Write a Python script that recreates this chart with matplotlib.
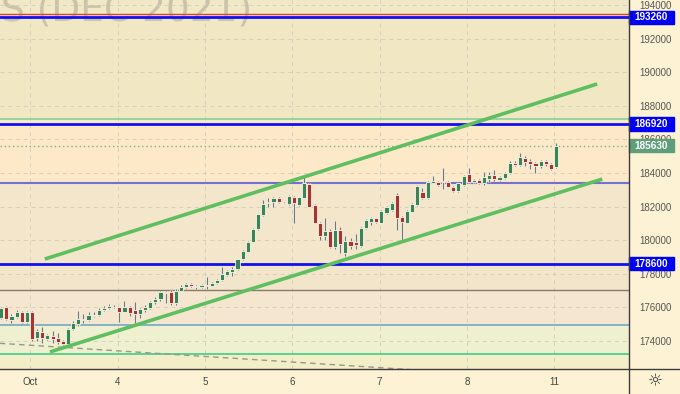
import matplotlib
matplotlib.use('Agg')
import matplotlib.pyplot as plt
import numpy as np
from matplotlib.patches import Rectangle
from matplotlib.lines import Line2D
from matplotlib.transforms import blended_transform_factory

plt.rcParams['font.family'] = ['Liberation Sans', 'DejaVu Sans']

# hourly candles, index 0 = first bar of Oct 1
bar_idx = list(range(-6, 103))
opens = [175370, 176020, 175250, 175430, 175730, 175130,
         175700, 174180, 174540, 174120, 174300, 174180, 174000, 173820, 174710, 175010,
         175310, 175250, 175500, 175560, 175840, 175950, 176020,
         176000, 175750, 176020, 175840, 175610, 175850, 175980, 176340, 176500, 176900,
         176900, 176250, 176990, 177200, 177400, 177250, 177200,
         177350, 177300, 177450, 177630, 177930, 178130, 178270, 178860, 179320, 179910,
         180650, 181500, 182230, 182250, 182500, 182230, 182140,
         182590, 182080, 182530, 183350, 182100, 181050, 180250, 180570, 179610, 180610,
         179220, 179950, 179910, 179660, 180710, 181100, 181300,
         181040, 181600, 181800, 182700, 181400, 181040, 181700, 182100, 182890, 182530,
         183430, 183480, 183500, 183480, 183190, 182930, 183290,
         183940, 183480, 183580, 183420, 183630, 183880, 183580, 183690, 183980, 184610,
         184480, 184880, 184720, 184610, 184420, 184720, 184520,
         184340]
highs = [176000, 176080, 175600, 175850, 175800, 175790,
         175760, 174700, 174830, 174420, 174600, 174480, 174060, 174780, 175200, 175790,
         175600, 175700, 175700, 175950, 176100, 176200, 176150,
         176050, 176380, 176100, 176320, 175950, 176150, 176400, 176600, 177000, 176980,
         177030, 177100, 177350, 177450, 177450, 177350, 177420,
         177800, 177500, 177700, 178420, 178250, 178420, 178900, 179400, 179950, 180700,
         181580, 182390, 182530, 182560, 182560, 182260, 182700,
         182650, 182600, 183780, 183400, 182150, 181100, 181300, 180650, 181160, 180770,
         180250, 180130, 180370, 180800, 181250, 181400, 181350,
         181800, 182050, 182300, 182800, 181450, 181800, 182200, 183300, 183100, 183520,
         183820, 183530, 184280, 183530, 183230, 183430, 183880,
         184280, 183620, 183620, 184080, 184080, 184180, 183850, 184050, 184700, 184700,
         185200, 185000, 184830, 184650, 184780, 184780, 184580,
         185770]
lows = [175300, 175250, 175100, 175370, 175080, 175080,
        174000, 173980, 173900, 174060, 173900, 173850, 173780, 173780, 174650, 174900,
        175050, 175200, 175450, 175500, 175780, 175900, 175950,
        175150, 175700, 175500, 175050, 175400, 175700, 175900, 176200, 176400, 176250,
        176150, 176150, 176950, 177150, 177200, 177100, 177150,
        177100, 177250, 177400, 177600, 177880, 177870, 178220, 178820, 179280, 179880,
        180620, 181460, 181990, 181960, 182200, 182140, 182100,
        181010, 182020, 182490, 181960, 181000, 180010, 180010, 179550, 179500, 179220,
        179060, 179500, 179500, 179600, 180650, 180900, 181050,
        181000, 181550, 181750, 180610, 180010, 181000, 181650, 182050, 182450, 182480,
        183380, 183250, 183050, 183150, 182880, 182880, 183250,
        183430, 183430, 183340, 183300, 183450, 183500, 183550, 183650, 183940, 184420,
        184420, 184410, 184230, 184020, 184320, 184400, 184180,
        184300]
closes = [175960, 175310, 175490, 175730, 175130, 175730,
          174120, 174600, 174180, 174330, 174140, 173950, 173800, 174710, 175070, 175310,
          175250, 175550, 175560, 175840, 175980, 176080, 176000,
          175750, 176030, 175640, 175610, 175880, 176000, 176340, 176500, 176900, 176880,
          176250, 176990, 177230, 177380, 177250, 177200, 177350,
          177300, 177450, 177620, 177990, 178170, 178300, 178860, 179360, 179910, 180650,
          181540, 182140, 182290, 182500, 182250, 182170, 182650,
          182200, 182550, 183390, 182000, 181050, 180250, 180570, 179610, 180610, 179780,
          179970, 179660, 179710, 180710, 181200, 181340, 181100,
          181740, 181960, 182230, 181300, 181070, 181740, 182140, 183230, 182530, 183480,
          183520, 183290, 183450, 183190, 182930, 183390, 183820,
          183480, 183580, 183390, 183780, 183880, 183630, 183780, 183980, 184580, 184500,
          184970, 184650, 184540, 184440, 184720, 184540, 184240,
          185630]

day_starts = [0, 17, 34, 51, 68, 85, 102]
day_labels = ['Oct', '4', '5', '6', '7', '8', '11']
price_ticks = list(range(174000, 194001, 2000))

# drawn levels
red_level = 193464
green_level = 187215
mid_level = 183405
gray_level = 177037
teal_level = 174954
mint_level = 173210
blue_levels = [193260, 186920, 178600]
last_price = 185630

upper_channel = ([2.5, 110], [178880, 189300])
lower_channel = ([3.5, 111], [173350, 183640])
dashed_trend = ([-6.3, 80], [173865, 172175])

bands = [
    (193464, 195000, '#f1e8c6'),
    (187215, 193464, '#f1e7c3'),
    (183405, 187215, '#fde8c8'),
    (178600, 183405, '#f4e6cb'),
    (177037, 178600, '#f2e5c9'),
    (174954, 177037, '#f5e7cf'),
    (173210, 174954, '#eef0d0'),
    (170000, 173210, '#f2efc8'),
]

o = np.array(opens, dtype=float)
h = np.array(highs, dtype=float)
l = np.array(lows, dtype=float)
c = np.array(closes, dtype=float)
x = np.array(bar_idx)

fig = plt.figure(figsize=(6.8, 3.94), dpi=100, facecolor='#fdf2d3')
ax = fig.add_axes([0, 25 / 394, 629 / 680, 369 / 394])
ax.set_xlim(-6.23, 116.2)
ax.set_ylim(172335, 194298)

for lo, hi, col in bands:
    ax.axhspan(lo, hi, color=col, lw=0, zorder=0)

ax.text(252 / 629, 1 - 20 / 369, 'S (DEC 2021)', transform=ax.transAxes,
        ha='right', va='baseline', fontsize=27, color='#cbc3a7',
        family='DejaVu Sans', zorder=0.4)

ax.set_axisbelow(True)
ax.grid(True, ls=(0, (4, 4)), color='#d6d0c0', lw=0.7)

ax.axhline(red_level, color='#e0403a', lw=1, zorder=2)
ax.axhline(green_level, color='#7fd49c', lw=1.2, zorder=2)
ax.axhline(mid_level, color='#6f72d0', lw=1.5, zorder=2)
ax.axhline(gray_level, color='#857a6c', lw=1, zorder=2)
ax.axhline(teal_level, color='#72a9c6', lw=1.2, zorder=2)
ax.axhline(mint_level, color='#3fcf84', lw=1.2, zorder=2)
for lv in blue_levels:
    ax.axhline(lv, color='#1010f0', lw=2, zorder=2)
ax.axhline(last_price, color='#6fb888', lw=1, ls=(0, (1, 2)), zorder=2)

ax.plot(*dashed_trend, color='#9a968c', lw=1, ls=(0, (4, 3)), zorder=2)

# candles, with the light halo the source platform draws
up = c >= o
body_col = np.where(up, '#3a8556', '#a8342d')
ax.vlines(x, l, h, color='#fbf6ea', lw=2.2, zorder=3)
ax.vlines(x, l, h, color='#76766f', lw=0.9, zorder=3.1)
ax.bar(x, np.maximum(np.abs(c - o), 30), bottom=np.minimum(o, c), width=0.8,
       color=body_col, edgecolor='#fbf6ea', lw=0.6, zorder=4)

ax.plot(*upper_channel, color='#5fbf60', lw=2.6, solid_capstyle='butt', zorder=5)
ax.plot(*lower_channel, color='#5fbf60', lw=2.6, solid_capstyle='butt', zorder=5)

ax.yaxis.tick_right()
ax.set_yticks(price_ticks)
ax.set_yticklabels([str(v) for v in price_ticks])
ax.tick_params(axis='y', length=0, pad=7.5, labelsize=7, labelcolor='#555555')
ax.set_xticks([d - 0.35 for d in day_starts])
ax.set_xticklabels(day_labels)
ax.tick_params(axis='x', length=0, pad=6, labelsize=7, labelcolor='#444444')

for s in ['left', 'top', 'right', 'bottom']:
    ax.spines[s].set_visible(False)

fig.add_artist(Line2D([0, 1], [25 / 394, 25 / 394], transform=fig.transFigure,
                      color='#3c3c3c', lw=1))
fig.add_artist(Line2D([629 / 680, 629 / 680], [0, 1], transform=fig.transFigure,
                      color='#3c3c3c', lw=1))

# price tags on the right scale
trans = blended_transform_factory(ax.transAxes, ax.transData)
tags = [(193260, '#0000f5'), (186920, '#0000f5'), (178600, '#0000f5'), (185630, '#5f9e7a')]
for v, col in tags:
    ax.add_patch(Rectangle((1.0, v - 390), 45 / 629, 780, transform=trans,
                           clip_on=False, color=col, zorder=10))
    ax.text(651 / 629, v, str(v), transform=trans, ha='center', va='center',
            color='white', fontsize=7.2, fontweight='bold', clip_on=False, zorder=11)

fig.text(655 / 680, 1 - 381 / 394, '\u263c', ha='center', va='center',
         fontsize=12, color='#333333', family='DejaVu Sans')

fig.savefig('out.png', dpi=100, facecolor=fig.get_facecolor())
